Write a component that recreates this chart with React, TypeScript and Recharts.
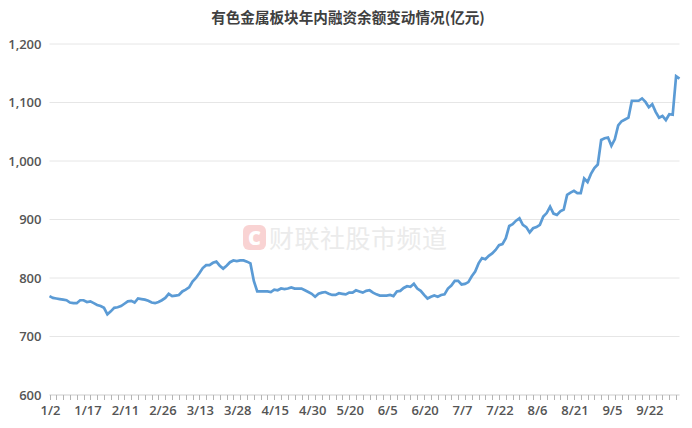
import React from "react";
import { LineChart, Line, XAxis, YAxis, CartesianGrid } from "recharts";

const dates: string[] = [
  "1/2","1/3","1/6","1/7","1/8","1/9","1/10","1/13","1/14","1/15","1/16","1/17","1/20","1/21","1/22","1/23","1/24","1/27",
  "2/5","2/6","2/7","2/10","2/11","2/12","2/13","2/14","2/17","2/18","2/19","2/20","2/21","2/24","2/25","2/26","2/27","2/28",
  "3/3","3/4","3/5","3/6","3/7","3/10","3/11","3/12","3/13","3/14","3/17","3/18","3/19","3/20","3/21","3/24","3/25","3/26","3/27","3/28","3/31",
  "4/1","4/2","4/3","4/7","4/8","4/9","4/10","4/11","4/14","4/15","4/16","4/17","4/18","4/21","4/22","4/23","4/24","4/25","4/28","4/29","4/30",
  "5/6","5/7","5/8","5/9","5/12","5/13","5/14","5/15","5/16","5/19","5/20","5/21","5/22","5/23","5/26","5/27","5/28","5/29","5/30",
  "6/3","6/4","6/5","6/6","6/9","6/10","6/11","6/12","6/13","6/16","6/17","6/18","6/19","6/20","6/23","6/24","6/25","6/26","6/27","6/30",
  "7/1","7/2","7/3","7/4","7/7","7/8","7/9","7/10","7/11","7/14","7/15","7/16","7/17","7/18","7/21","7/22","7/23","7/24","7/25","7/28","7/29","7/30","7/31",
  "8/1","8/4","8/5","8/6","8/7","8/8","8/11","8/12","8/13","8/14","8/15","8/18","8/19","8/20","8/21","8/22","8/25","8/26","8/27","8/28","8/29",
  "9/1","9/2","9/3","9/4","9/5","9/8","9/9","9/10","9/11","9/12","9/15","9/16","9/17","9/18","9/19","9/22","9/23","9/24","9/25","9/26","9/29","9/30",
  "10/9","10/10","10/13",
];

const balance: number[] = [
  769, 766, 765, 764, 763, 762, 758, 757, 757, 762, 762, 759, 760, 757, 754, 752, 749, 738,
  743, 749, 750, 752, 756, 760, 761, 758, 765, 764, 763, 761, 758, 757, 759, 762, 766, 773,
  769, 770, 771, 777, 780, 784, 794, 800, 808, 817, 822, 822, 826, 828, 821, 816, 821, 827, 830, 829, 830,
  830, 828, 825, 795, 777, 777, 777, 777, 776, 780, 779, 782, 781, 782, 784, 782, 782, 782, 779, 776, 773,
  768, 773, 775, 776, 773, 771, 771, 774, 773, 772, 775, 775, 779, 777, 775, 778, 779, 775, 772,
  770, 770, 770, 771, 769, 777, 778, 783, 786, 785, 790, 782, 778, 771, 765, 768, 770, 768, 771, 772,
  782, 787, 795, 795, 789, 790, 793, 803, 811, 825, 834, 832, 838, 842, 848, 856, 858, 868, 889, 892, 898, 902, 891,
  887, 878, 885, 887, 891, 905, 911, 922, 910, 908, 914, 917, 942, 946, 949, 945, 945, 970, 964, 978, 988,
  994, 1036, 1039, 1040, 1026, 1037, 1061, 1068, 1071, 1074, 1103, 1103, 1103, 1107, 1101, 1092, 1097, 1084, 1074, 1077, 1070, 1080,
  1079, 1145, 1141,
];

const yTicks: number[] = [600, 700, 800, 900, 1000, 1100, 1200];

const data = dates.map((d, i) => ({ date: d, value: balance[i] }));

const LABEL_FONT = "'Open Sans', 'Noto Sans', sans-serif";

const XTick = (props: any) => {
  const { x, y, payload } = props;
  const i = dates.indexOf(payload.value);
  const tx = Math.round(x);
  return (
    <g>
      {i % 2 === 0 && (
        <rect x={tx} y={Math.round(y)} width={1} height={5} fill="#b4b4b4" stroke="none" />
      )}
      {i % 11 === 0 && (
        <text
          x={x + 1}
          y={y + 20}
          textAnchor="middle"
          fill="#555555"
          fontSize={13}
          fontWeight={600}
          fontFamily={LABEL_FONT}
        >
          {payload.value}
        </text>
      )}
    </g>
  );
};

export default function App() {
  return (
    <div style={{ position: "absolute", left: 0, top: 0, width: 692, height: 428, background: "#fff" }}>
      <div
        style={{
          position: "absolute",
          left: 0,
          top: 7,
          width: 696,
          textAlign: "center",
          fontFamily: "'Noto Sans CJK SC', sans-serif",
          fontWeight: 700,
          fontSize: 14.6,
          color: "#404040",
          lineHeight: "20px",
        }}
      >
        有色金属板块年内融资余额变动情况(亿元)
      </div>
      <div
        style={{
          position: "absolute",
          left: 243,
          top: 223,
          display: "flex",
          alignItems: "center",
          pointerEvents: "none",
        }}
      >
        <div
          style={{
            width: 23,
            height: 25,
            borderRadius: 6,
            background: "#f9d3d3",
            color: "#fff",
            fontFamily: "'Noto Sans', sans-serif",
            fontWeight: 900,
            fontSize: 20,
            lineHeight: "25px",
            textAlign: "center",
          }}
        >
          C
        </div>
        <div
          style={{
            marginLeft: 3,
            fontFamily: "'Noto Sans CJK SC', sans-serif",
            fontSize: 25,
            lineHeight: "28px",
            color: "#ebebeb",
            letterSpacing: 0.5,
          }}
        >
          财联社股市频道
        </div>
      </div>
      <div style={{ position: "absolute", left: 0, top: 0 }}>
        <LineChart
          width={692}
          height={428}
          data={data}
          margin={{ top: 44, right: 12.5, left: 0, bottom: 3 }}
        >
          <CartesianGrid vertical={false} stroke="#e6e6e6" strokeWidth={1} />
          <XAxis
            dataKey="date"
            interval={0}
            height={30}
            tickSize={0}
            tickMargin={0}
            tickLine={false}
            axisLine={{ stroke: "#d9d9d9" }}
            tick={<XTick />}
          />
          <YAxis
            domain={[600, 1200]}
            ticks={yTicks}
            width={49.5}
            axisLine={false}
            tickLine={false}
            tickSize={6}
            tickMargin={2}
            tickFormatter={(v: number) => v.toLocaleString("en-US")}
            tick={{ fill: "#555555", fontSize: 13, fontWeight: 600, fontFamily: LABEL_FONT }}
          />
          <Line
            type="linear"
            dataKey="value"
            stroke="#5b9bd5"
            strokeWidth={2.7}
            dot={false}
            isAnimationActive={false}
          />
        </LineChart>
      </div>
    </div>
  );
}
